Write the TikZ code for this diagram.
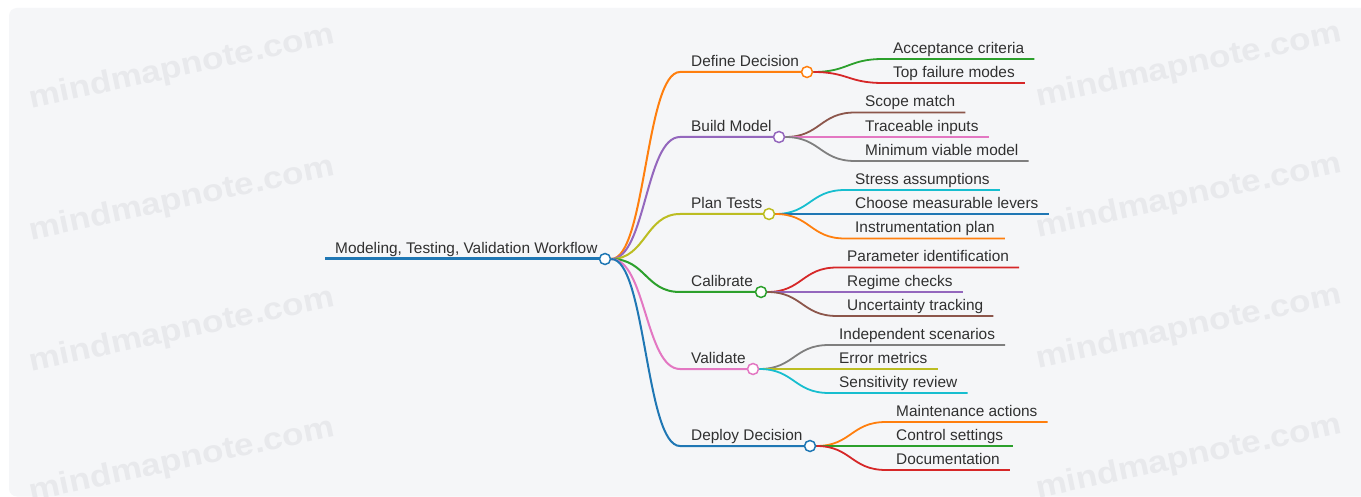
\documentclass[tikz,border=0pt]{standalone}
\usepackage{fontspec}
\setmainfont{Liberation Sans}
\newfontfamily\wmfont{Liberation Sans}
\usetikzlibrary{calc}
\definecolor{cBlue}{HTML}{1F77B4}
\definecolor{cOrange}{HTML}{FF7F0E}
\definecolor{cGreen}{HTML}{2CA02C}
\definecolor{cRed}{HTML}{D62728}
\definecolor{cPurple}{HTML}{9467BD}
\definecolor{cBrown}{HTML}{8C564B}
\definecolor{cPink}{HTML}{E377C2}
\definecolor{cGray}{HTML}{7F7F7F}
\definecolor{cOlive}{HTML}{BCBD22}
\definecolor{cCyan}{HTML}{17BECF}
\definecolor{bgc}{HTML}{F5F6F8}
\definecolor{wmc}{HTML}{E8E9EC}
\definecolor{txt}{HTML}{303030}
\pgfdeclarelayer{back}
\pgfdeclarelayer{bg}
\pgfsetlayers{back,bg,main}
\begin{document}
\begin{tikzpicture}[x=1pt,y=-1pt,
  lbl/.style={anchor=base west, inner sep=0pt, text=txt, font=\fontsize{15.4}{18}\selectfont},
  wm/.style={text=wmc, font=\wmfont\bfseries\fontsize{31}{33}\selectfont, rotate=12, inner sep=0pt},
  dot/.style={circle, draw=#1, fill=white, line width=1.5pt, minimum size=11pt, inner sep=0pt},
  l0/.style={line width=3pt, cBlue},
  l1/.style={line width=2pt},
  l2/.style={line width=1.8pt}]
\useasboundingbox (0,0) rectangle (1361,497);
\begin{pgfonlayer}{back}
\fill[white] (0,0) rectangle (1361,497);
\fill[bgc, rounded corners=8pt] (9,8) rectangle (1380,496.5);
\foreach \i/\x/\y in {w1/182/68, w2/182/200, w3/182/331, w4/182/461, w5/1189/66, w6/1189/197, w7/1189/328, w8/1189/458}
  \node[wm] (\i) at (\x,\y) {\scalebox{1.13}[1]{mindmapnote.com}};
\end{pgfonlayer}
% root
\node[dot=cBlue] (root) at (605,259) {};
\node[lbl] (root-t) at (335,253.5) {Modeling, Testing, Validation Workflow};
\coordinate (root-l) at (325,259);
\begin{pgfonlayer}{bg}
\draw[l0] (root-l) -- (root.center);
\end{pgfonlayer}
% level 1
\foreach \n/\t/\y/\cx/\col in {dd/Define Decision/72/807/cOrange, bm/Build Model/137/779/cPurple, pt/Plan Tests/214/769/cOlive, ca/Calibrate/292/761/cGreen, va/Validate/369/753/cPink, de/Deploy Decision/446/810/cBlue}{
  \node[dot=\col] (\n) at (\cx,\y) {};
  \node[lbl] (\n-t) at (691,\y-5.5) {\t};
  \coordinate (\n-l) at (680,\y);
  \begin{pgfonlayer}{bg}
  \draw[l1,\col] (root.east) .. controls +(34.5,0) and +(-34.5,0) .. (\n-l) -- (\n.center);
  \end{pgfonlayer}
}
% level 2
\foreach \p/\n/\t/\y/\sx/\col in {
  dd/a1/Acceptance criteria/59/883/cGreen,
  dd/a2/Top failure modes/83/883/cRed,
  bm/b1/Scope match/112.5/855/cBrown,
  bm/b2/Traceable inputs/137/855/cPink,
  bm/b3/Minimum viable model/161/855/cGray,
  pt/c1/Stress assumptions/190/845/cCyan,
  pt/c2/Choose measurable levers/214/845/cBlue,
  pt/c3/Instrumentation plan/238.5/845/cOrange,
  ca/d1/Parameter identification/267.5/837/cRed,
  ca/d2/Regime checks/292/837/cPurple,
  ca/d3/Uncertainty tracking/316/837/cBrown,
  va/e1/Independent scenarios/345/829/cGray,
  va/e2/Error metrics/369/829/cOlive,
  va/e3/Sensitivity review/393/829/cCyan,
  de/f1/Maintenance actions/422/886/cOrange,
  de/f2/Control settings/446/886/cGreen,
  de/f3/Documentation/470/886/cRed}{
  \coordinate (\n-l) at (\sx,\y);
  \node[lbl] (\n-t) at (\sx+10,\y-5.5) {\t};
  \begin{pgfonlayer}{bg}
  \draw[l2,\col] (\p.east) .. controls +(35,0) and +(-35,0) .. (\n-l) -- ($(\n-t.east |- \n-l)+(10,0)$);
  \end{pgfonlayer}
}
\end{tikzpicture}
\end{document}
